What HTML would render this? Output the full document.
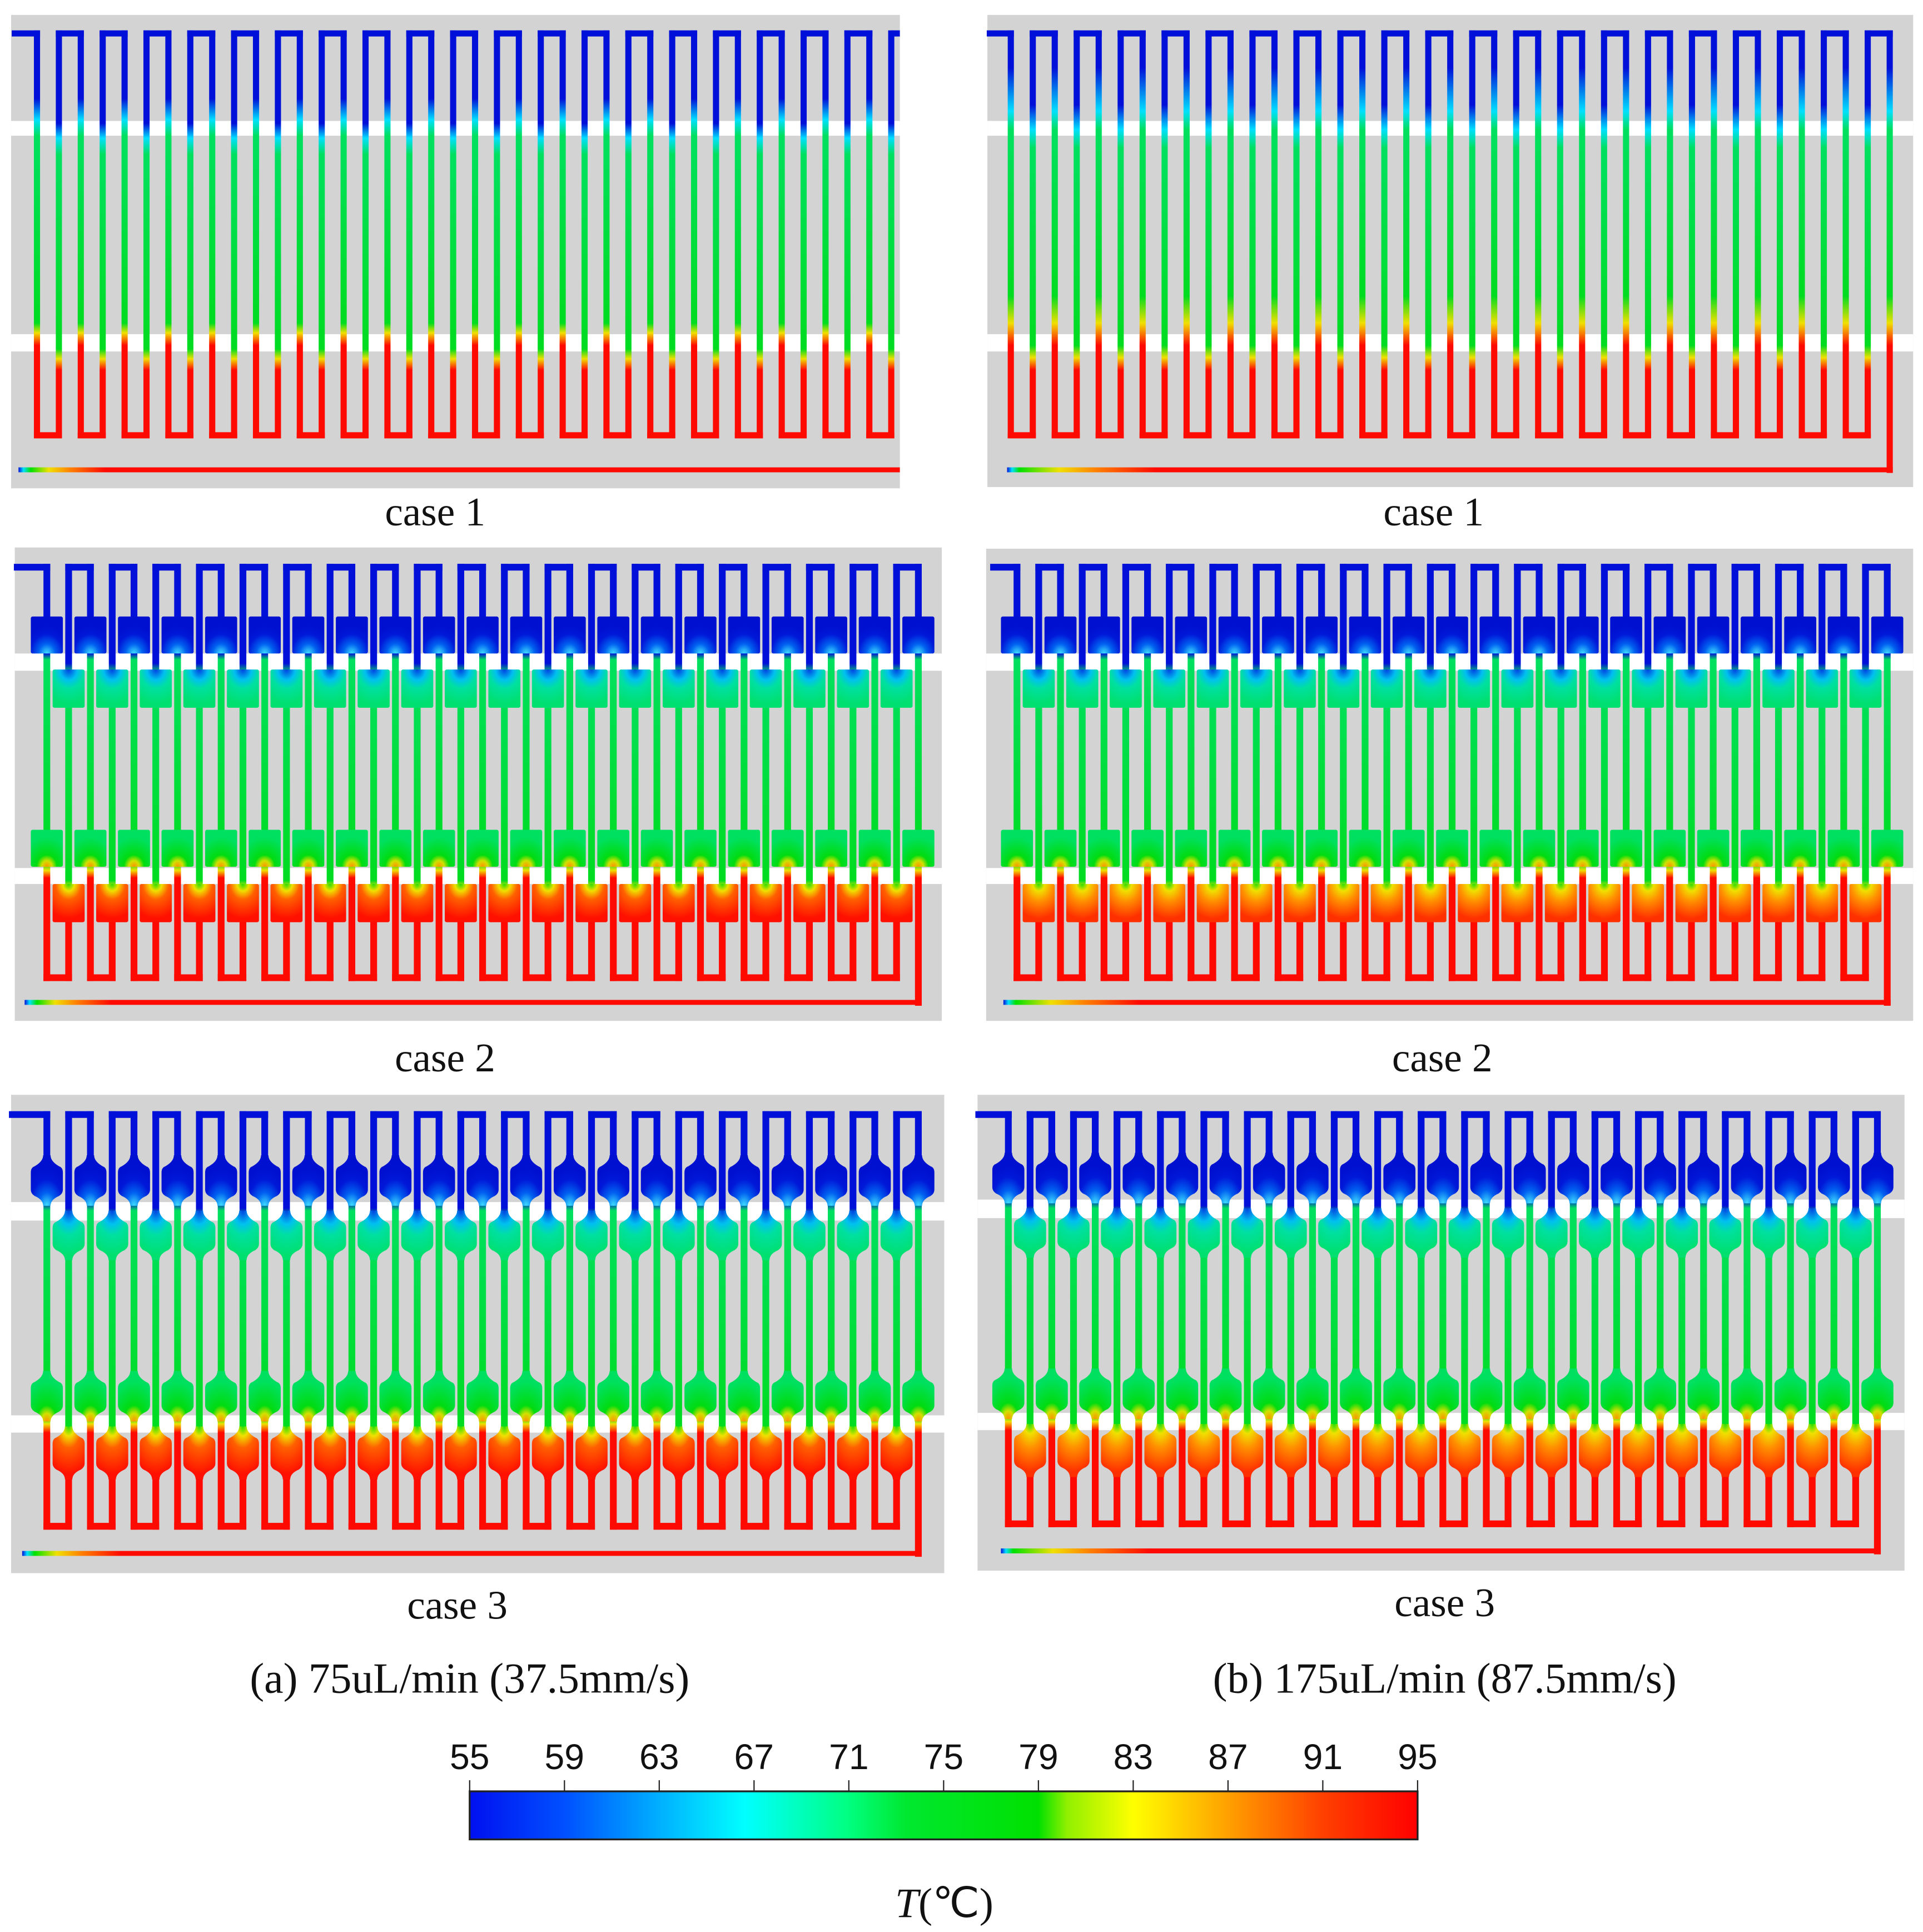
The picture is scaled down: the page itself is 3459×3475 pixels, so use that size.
<!DOCTYPE html>
<html><head><meta charset="utf-8">
<style>
html,body{margin:0;padding:0;background:#fff;}
svg{display:block;}
</style></head>
<body>
<svg id="fig" xmlns="http://www.w3.org/2000/svg" width="3459" height="3475" viewBox="0 0 1560 1567">
<defs id="defs">
<linearGradient id="cmap" x1="0" y1="0" x2="1" y2="0">
<stop offset="0" stop-color="#0010f0"/><stop offset="0.1" stop-color="#0050ff"/>
<stop offset="0.2" stop-color="#00b0ff"/><stop offset="0.29" stop-color="#00ffff"/>
<stop offset="0.4" stop-color="#00ff80"/><stop offset="0.46" stop-color="#00e830"/>
<stop offset="0.6" stop-color="#00e000"/><stop offset="0.63" stop-color="#90f000"/>
<stop offset="0.7" stop-color="#ffff00"/><stop offset="0.8" stop-color="#ffa000"/>
<stop offset="0.9" stop-color="#ff4000"/><stop offset="1" stop-color="#ff0000"/>
</linearGradient>
<radialGradient id="row1" cx="0.5" cy="1" r="0.75" fx="0.5" fy="1"><stop offset="0" stop-color="#40e0ff"/><stop offset="0.35" stop-color="#0060f0"/><stop offset="0.7" stop-color="#0018d8"/><stop offset="1" stop-color="#0010d0"/></radialGradient>
<radialGradient id="row2" cx="0.5" cy="0" r="0.9" fx="0.5" fy="0"><stop offset="0" stop-color="#0040e0"/><stop offset="0.3" stop-color="#00c0f0"/><stop offset="0.55" stop-color="#00e0a0"/><stop offset="1" stop-color="#00e070"/></radialGradient>
<radialGradient id="row3" cx="0.5" cy="1" r="0.8" fx="0.5" fy="1"><stop offset="0" stop-color="#ff9000"/><stop offset="0.2" stop-color="#d0e000"/><stop offset="0.4" stop-color="#00dc10"/><stop offset="1" stop-color="#00e060"/></radialGradient>
<radialGradient id="row4a" cx="0.5" cy="0" r="0.9" fx="0.5" fy="0"><stop offset="0" stop-color="#20e000"/><stop offset="0.2" stop-color="#f0e000"/><stop offset="0.45" stop-color="#ff6000"/><stop offset="1" stop-color="#ff1000"/></radialGradient>
<radialGradient id="row4b" cx="0.5" cy="0" r="0.9" fx="0.5" fy="0"><stop offset="0" stop-color="#20e000"/><stop offset="0.2" stop-color="#f0e000"/><stop offset="0.5" stop-color="#ff9000"/><stop offset="1" stop-color="#ff3000"/></radialGradient>
</defs>
<g id="panels"></g>
<g id="texts" font-family="Liberation Serif, serif" fill="#111">
<text x="353" y="426" font-size="33" text-anchor="middle">case 1</text>
<text x="1163" y="426" font-size="33" text-anchor="middle">case 1</text>
<text x="361" y="869" font-size="33" text-anchor="middle">case 2</text>
<text x="1170" y="869" font-size="33" text-anchor="middle">case 2</text>
<text x="371" y="1313" font-size="33" text-anchor="middle">case 3</text>
<text x="1172" y="1311" font-size="33" text-anchor="middle">case 3</text>
<text x="381" y="1373" font-size="35" text-anchor="middle">(a) 75uL/min (37.5mm/s)</text>
<text x="1172" y="1373" font-size="35" text-anchor="middle">(b) 175uL/min (87.5mm/s)</text>
<text x="766" y="1555" font-size="34" text-anchor="middle"><tspan font-style="italic">T</tspan>(℃)</text>
</g>
<g id="cbar"></g>
</svg>
<script>
const tickValues = [55,59,63,67,71,75,79,83,87,91,95];
const rangeMin = 55, rangeMax = 95;
const NS = "http://www.w3.org/2000/svg";
function mk(tag, attrs, parent){const e=document.createElementNS(NS,tag);for(const k in attrs)e.setAttribute(k,attrs[k]);if(parent)parent.appendChild(e);return e;}
const defs=document.getElementById('defs');
const panelsG=document.getElementById('panels');

function grad(id, y0, y1, stops){
  const g=mk('linearGradient',{id:id,gradientUnits:'userSpaceOnUse',x1:0,y1:y0,x2:0,y2:y1},defs);
  stops.forEach(s=>mk('stop',{offset:Math.max(0,Math.min(1,(s[0]-y0)/(y1-y0))),'stop-color':s[1]},g));
}
function hgrad(id,x0,x1,stops){
  const g=mk('linearGradient',{id:id,gradientUnits:'userSpaceOnUse',x1:x0,y1:0,x2:x1,y2:0},defs);
  stops.forEach(s=>mk('stop',{offset:Math.max(0,Math.min(1,(s[0]-x0)/(x1-x0))),'stop-color':s[1]},g));
}
const B='#0010d8',C='#00e0ff',G='#00e060',G2='#00dc20',Y='#f0e000',R='#ff0a00';
const panels=[
 {id:'a1',gx:9,gy:12,gw:721,gh:384,bands:[[98,110],[271,285]],top:27,bot:353,line:381,x0:30,x1:723,N:40,kind:1,ex:12,lx:15,lx1:730,
  down:[[80,B],[97,C],[110,G],[262,G2],[270,Y],[280,R]],up:[[100,B],[112,C],[125,G],[283,G2],[291,Y],[300,R]],red:70},
 {id:'b1',gx:801,gy:12,gw:751,gh:383,bands:[[98,110],[271,285]],top:27,bot:353,line:381,x0:820,x1:1533,N:41,kind:1,ex:803,lx:817,
  down:[[55,B],[90,C],[105,G],[240,G2],[262,Y],[280,R]],up:[[85,B],[105,C],[120,G],[280,G2],[290,Y],[300,R]],red:120},
 {id:'a2',gx:12,gy:444,gw:752,gh:384,bands:[[530,544],[704,717]],top:460,bot:793,line:813,x0:38,x1:745,N:41,kind:2,ex:14,lx:20,
  rows:[[500,530],[543,574],[673,703],[717,748]],down:[[530,B],[535,G],[700,G2],[706,Y],[712,R]],up:[[538,B],[546,G],[714,G2],[720,Y],[726,R]],r4:'row4a',red:70},
 {id:'b2',gx:800,gy:445,gw:752,gh:383,bands:[[530,544],[704,717]],top:460,bot:793,line:813,x0:825,x1:1531,N:41,kind:2,ex:806,lx:814,
  rows:[[500,530],[543,574],[673,703],[717,748]],down:[[530,B],[535,G],[700,G2],[706,Y],[712,R]],up:[[538,B],[546,G],[714,G2],[720,Y],[726,R]],r4:'row4b',red:110},
 {id:'a3',gx:9,gy:888,gw:757,gh:388,bands:[[975,990],[1148,1162]],top:904,bot:1238,line:1260,x0:38,x1:745,N:41,kind:3,ex:10,lx:18,
  rows:[[937,978],[982,1022],[1112,1153],[1157,1200]],down:[[975,B],[982,G],[1150,G2],[1155,Y],[1162,R]],up:[[980,B],[988,G],[1157,G2],[1162,Y],[1170,R]],r4:'row4a',red:80},
 {id:'b3',gx:793,gy:888,gw:752,gh:386,bands:[[973,988],[1146,1160]],top:904,bot:1236,line:1258,x0:818,x1:1523,N:41,kind:3,ex:794,lx:812,
  rows:[[935,976],[980,1020],[1110,1151],[1155,1198]],down:[[973,B],[980,G],[1148,G2],[1153,Y],[1160,R]],up:[[978,B],[986,G],[1155,G2],[1160,Y],[1168,R]],r4:'row4b',red:120}
];
function bulb(cx,yt,yb,w){
  const h=w/2,n=3;
  return `M${cx-n},${yt} L${cx+n},${yt} Q${cx+n},${yt+5} ${cx+h-3},${yt+9} Q${cx+h},${yt+10} ${cx+h},${yt+14} L${cx+h},${yb-13} Q${cx+h},${yb-10} ${cx+h-3},${yb-8} Q${cx+n},${yb-5} ${cx+n},${yb} L${cx-n},${yb} Q${cx-n},${yb-5} ${cx-h+3},${yb-8} Q${cx-h},${yb-10} ${cx-h},${yb-13} L${cx-h},${yt+14} Q${cx-h},${yt+10} ${cx-h+3},${yt+9} Q${cx-n},${yt+5} ${cx-n},${yt} Z`;
}
panels.forEach(p=>{
  const g=mk('g',{},panelsG);
  
  
  mk('rect',{x:p.gx,y:p.gy,width:p.gw,height:p.gh,fill:'#d3d3d3'},g);
  p.bands.forEach(b=>mk('rect',{x:p.gx,y:b[0],width:p.gw,height:b[1]-b[0],fill:'#fff'},g));
  grad('dn-'+p.id,p.top,p.bot,p.down);
  grad('up-'+p.id,p.top,p.bot,p.up);
  const step=(p.x1-p.x0)/(p.N-1);
  const W=p.kind===1?5:5.5;
  const xs=[];for(let i=0;i<p.N;i++)xs.push(p.x0+i*step);
  mk('line',{x1:p.ex,y1:p.top,x2:xs[0],y2:p.top,stroke:B,'stroke-width':W,'stroke-linecap':'square'},g);
  xs.forEach((x,i)=>{
    const lastEven=(i===p.N-1 && i%2===0);
    const y2=lastEven?p.line:p.bot;
    const ln=mk('line',{x1:x,y1:p.top,x2:x,y2:y2,stroke:'url(#'+(i%2===0?'dn-':'up-')+p.id+')','stroke-width':W,'stroke-linecap':'square'},g);
    
    
  });
  for(let i=1;i+1<p.N;i+=2) mk('line',{x1:xs[i],y1:p.top,x2:xs[i+1],y2:p.top,stroke:B,'stroke-width':W,'stroke-linecap':'square'},g);
  for(let i=0;i+1<p.N;i+=2) mk('line',{x1:xs[i],y1:p.bot,x2:xs[i+1],y2:p.bot,stroke:R,'stroke-width':W,'stroke-linecap':'square'},g);
  if(p.N%2===0) mk('line',{x1:xs[p.N-1],y1:p.top,x2:p.gx+p.gw,y2:p.top,stroke:B,'stroke-width':W},g);
  const lx1=p.N%2===0?p.lx1:xs[p.N-1]+W/2;
  hgrad('ln-'+p.id,p.lx,p.lx+p.red,[[p.lx,B],[p.lx+4,C],[p.lx+10,'#00e000'],[p.lx+p.red*0.35,Y],[p.lx+p.red*0.6,'#ff8000'],[p.lx+p.red,R]]);
  const ol=mk('line',{x1:p.lx,y1:p.line,x2:lx1,y2:p.line,stroke:'url(#ln-'+p.id+')','stroke-width':4},g);
  
  
  if(p.kind>1){
    const fills=['url(#row1)','url(#row2)','url(#row3)','url(#'+p.r4+')'];
    const cw=26;
    p.rows.forEach((r,ri)=>{
      xs.forEach((x,i)=>{
        if((ri%2===0)!==(i%2===0))return;
        let el;
        if(p.kind===2) el=mk('rect',{x:x-cw/2,y:r[0],width:cw,height:r[1]-r[0],rx:1.5,fill:fills[ri]},g);
        else el=mk('path',{d:bulb(x,r[0],r[1],cw),fill:fills[ri]},g);
        
        
      });
    });
  }
});
const cb=document.getElementById('cbar');
const bx0=381,bx1=1150,by0=1453,by1=1492;
function xScale(v){return bx0+(v-rangeMin)/(rangeMax-rangeMin)*(bx1-bx0);}
const bar=mk('rect',{x:bx0,y:by0,width:bx1-bx0,height:by1-by0,fill:'url(#cmap)',stroke:'#222','stroke-width':1.5},cb);


tickValues.forEach(v=>{
  const x=xScale(v);
  mk('line',{x1:x,y1:by0-9,x2:x,y2:by0,stroke:'#222','stroke-width':1},cb);
  const t=mk('text',{x:x,y:1435,'font-size':29,'text-anchor':'middle','font-family':'Liberation Sans, sans-serif',fill:'#111'},cb);
  
  
  t.textContent=v;
});
</script>
</body></html>
